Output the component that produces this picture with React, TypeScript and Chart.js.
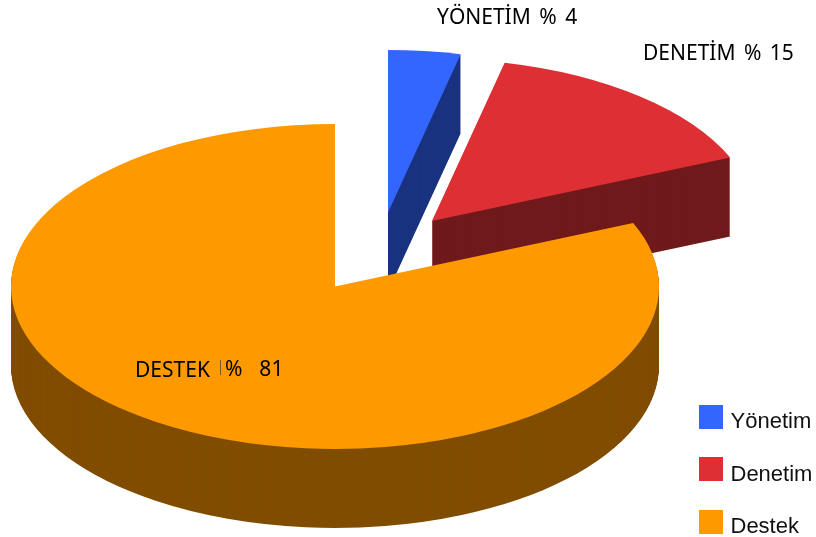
import React, { useEffect, useRef } from "react";
import { Chart, registerables } from "chart.js";

Chart.register(...registerables);

const categories = ["Yönetim", "Denetim", "Destek"];
const shares = [3.6, 15, 81.4];
const topColors = ["#3366ff", "#de2f35", "#ff9900"];
const sideColors = ["#1a3380", "#701a1c", "#804d00"];
const sliceLabels = ["YÖNETİM % 4", "DENETİM % 15", "%  81"];

// Perspective and explode settings of the pseudo-3D pie
const STRETCH_X = 324 / 162.5;
const DEPTH = 79;
const sliceShiftX = [53, 97, 0];
const sliceShiftY = [-74, -65.5, 0];
const legendTops = [405, 457, 510];
const legendBaselines = [428, 481, 533];

const pie3d = {
  id: "pie3d",
  beforeDatasetDraw(chart: any, args: any) {
    const ctx = chart.ctx;
    const arcs = args.meta.data;
    arcs.forEach((arc: any, i: number) => {
      const base = arc.options;
      const side = Object.create(base, { backgroundColor: { value: sideColors[i] } });
      const cx = arc.x;
      const paint = (dy: number) => {
        ctx.save();
        ctx.translate(sliceShiftX[i], sliceShiftY[i] + dy);
        ctx.translate(cx, 0);
        ctx.scale(STRETCH_X, 1);
        ctx.translate(-cx, 0);
        arc.draw(ctx);
        ctx.restore();
      };
      arc.options = side;
      for (let d = DEPTH; d >= 1; d--) paint(d);
      arc.options = base;
      paint(0);
    });
    return false;
  },
  afterDatasetsDraw(chart: any) {
    const ctx = chart.ctx;
    ctx.save();
    ctx.fillStyle = "#000000";
    ctx.textBaseline = "alphabetic";
    ctx.textAlign = "left";
    ctx.font = '21px "Noto Sans"';
    (ctx as any).fontKerning = "none";
    (ctx as any).wordSpacing = "3px";
    ctx.fillText(sliceLabels[0], 437, 24);
    ctx.fillText(sliceLabels[1], 643, 60);
    ctx.fillText("DESTEK", 135, 377);
    ctx.fillText(sliceLabels[2], 225, 376);
    (ctx as any).wordSpacing = "0px";
    (ctx as any).fontKerning = "auto";
    ctx.strokeStyle = "#7a5a20";
    ctx.lineWidth = 1;
    ctx.beginPath();
    ctx.moveTo(220.5, 360);
    ctx.lineTo(220.5, 375);
    ctx.stroke();
    // Legend
    ctx.font = '22px "Liberation Sans"';
    categories.forEach((name, i) => {
      ctx.fillStyle = topColors[i];
      ctx.fillRect(699, legendTops[i], 24, 24);
      ctx.fillStyle = "#111111";
      ctx.fillText(name, 730.5, legendBaselines[i]);
    });
    ctx.restore();
  },
};

export default function App() {
  const ref = useRef<HTMLCanvasElement | null>(null);
  useEffect(() => {
    document.body.style.margin = "0";
    const chart = new Chart(ref.current as HTMLCanvasElement, {
      type: "pie",
      data: {
        labels: categories,
        datasets: [
          {
            data: shares,
            backgroundColor: topColors,
            borderWidth: 0,
            hoverOffset: 0,
          },
        ],
      },
      options: {
        animation: false,
        responsive: false,
        maintainAspectRatio: false,
        layout: { padding: { left: 172.5, right: 318.5, top: 124, bottom: 88 } },
        plugins: {
          tooltip: { enabled: false },
          legend: { display: false },
        },
      } as any,
      plugins: [pie3d],
    });
    return () => chart.destroy();
  }, []);
  return (
    <div style={{ width: 816, height: 537, background: "#ffffff" }}>
      <canvas ref={ref} width={816} height={537} style={{ display: "block" }} />
    </div>
  );
}
